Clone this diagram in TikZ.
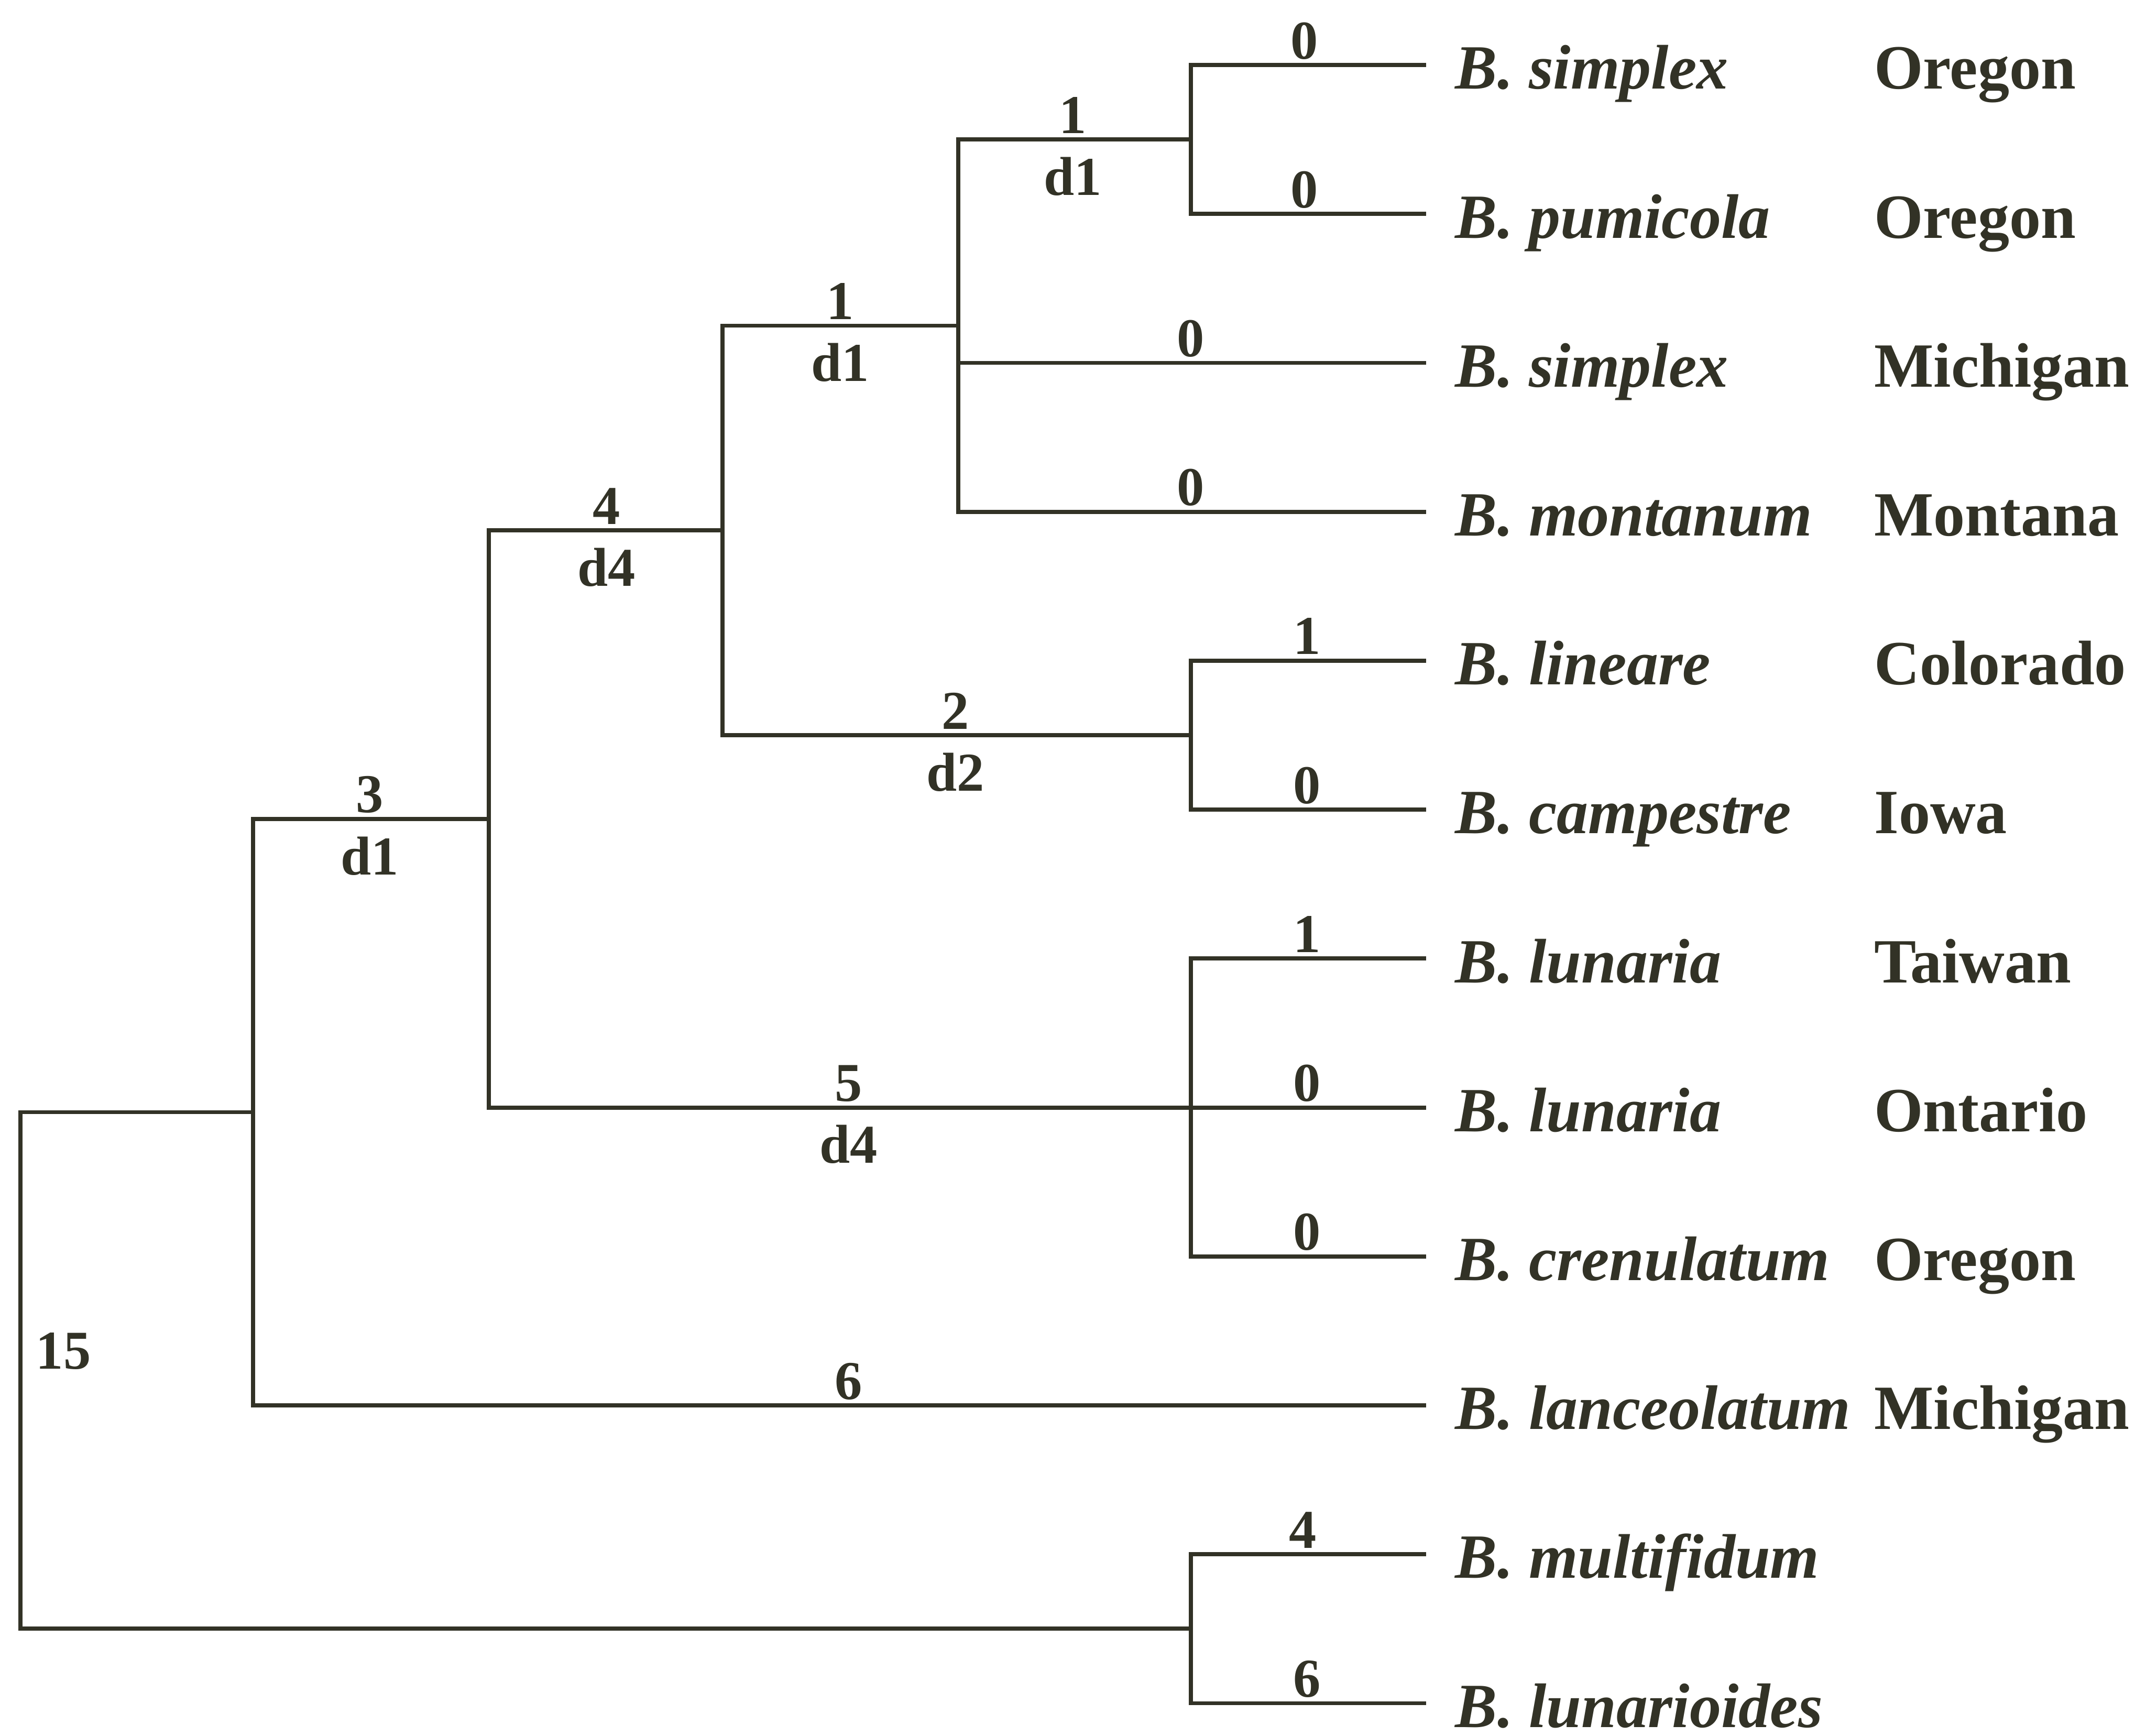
\documentclass[tikz,border=0pt]{standalone}
\usepackage{fontspec}
\setmainfont{Liberation Serif}
\definecolor{ink}{RGB}{50,50,38}
\begin{document}
\begin{tikzpicture}[x=0.5pt,y=-0.5pt,
  branch/.style={line width=1.5pt, draw=ink, line join=miter},
  taxon/.style={anchor=base west, inner sep=0pt, text=ink,
    font=\fontsize{23}{27}\selectfont\bfseries\itshape},
  place/.style={anchor=base west, inner sep=0pt, text=ink,
    font=\fontsize{23}{27}\selectfont\bfseries},
  num/.style={anchor=base, inner sep=0pt, text=ink,
    font=\fontsize{20}{24}\selectfont\bfseries}]
\useasboundingbox (0,0) rectangle (1568,1268);
\fill[white] (0,0) rectangle (1568,1268);

% branch tips
\coordinate (t1)  at (1042,47.5);
\coordinate (t2)  at (1042,156.3);
\coordinate (t3)  at (1042,265.1);
\coordinate (t4)  at (1042,373.9);
\coordinate (t5)  at (1042,482.7);
\coordinate (t6)  at (1042,591.5);
\coordinate (t7)  at (1042,700.3);
\coordinate (t8)  at (1042,809.1);
\coordinate (t9)  at (1042,917.9);
\coordinate (t10) at (1042,1026.7);
\coordinate (t11) at (1042,1135.5);
\coordinate (t12) at (1042,1244.3);

% internal nodes (on their vertical bars)
\coordinate (A) at (870,101.9);
\coordinate (B) at (700,237.9);
\coordinate (C) at (870,537.1);
\coordinate (D) at (528,387.5);
\coordinate (E) at (870,809.1);
\coordinate (F) at (357,598.3);
\coordinate (G) at (185,812.5);
\coordinate (H) at (870,1189.9);
\coordinate (R) at (15,1001.2);

% tree
\draw[branch] (A) |- (t1);  \draw[branch] (A) |- (t2);
\draw[branch] (B) |- (A);   \draw[branch] (B) |- (t3);  \draw[branch] (B) |- (t4);
\draw[branch] (C) |- (t5);  \draw[branch] (C) |- (t6);
\draw[branch] (D) |- (B);   \draw[branch] (D) |- (C);
\draw[branch] (E) |- (t7);  \draw[branch] (E) -- (t8);  \draw[branch] (E) |- (t9);
\draw[branch] (F) |- (D);   \draw[branch] (F) |- (E);
\draw[branch] (G) |- (F);   \draw[branch] (G) |- (t10);
\draw[branch] (H) |- (t11); \draw[branch] (H) |- (t12);
\draw[branch] (R) |- (G);   \draw[branch] (R) |- (H);

% taxa
\node[taxon] (s1)  at (1063,65.0)   {B. simplex};
\node[taxon] (s2)  at (1063,173.8)  {B. pumicola};
\node[taxon] (s3)  at (1063,282.6)  {B. simplex};
\node[taxon] (s4)  at (1063,391.4)  {B. montanum};
\node[taxon] (s5)  at (1063,500.2)  {B. lineare};
\node[taxon] (s6)  at (1063,609.0)  {B. campestre};
\node[taxon] (s7)  at (1063,717.8)  {B. lunaria};
\node[taxon] (s8)  at (1063,826.6)  {B. lunaria};
\node[taxon] (s9)  at (1063,935.4)  {B. crenulatum};
\node[taxon] (s10) at (1063,1044.2) {B. lanceolatum};
\node[taxon] (s11) at (1063,1153.0) {B. multifidum};
\node[taxon] (s12) at (1063,1261.8) {B. lunarioides};

% localities
\node[place] (p1)  at (1369,65.0)   {Oregon};
\node[place] (p2)  at (1369,173.8)  {Oregon};
\node[place] (p3)  at (1369,282.6)  {Michigan};
\node[place] (p4)  at (1369,391.4)  {Montana};
\node[place] (p5)  at (1369,500.2)  {Colorado};
\node[place] (p6)  at (1369,609.0)  {Iowa};
\node[place] (p7)  at (1369,717.8)  {Taiwan};
\node[place] (p8)  at (1369,826.6)  {Ontario};
\node[place] (p9)  at (1369,935.4)  {Oregon};
\node[place] (p10) at (1369,1044.2) {Michigan};

% terminal branch values
\node[num] (b1)  at (953,42.9)   {0};
\node[num] (b2)  at (953,151.7)  {0};
\node[num] (b3)  at (870,260.5)  {0};
\node[num] (b4)  at (870,369.3)  {0};
\node[num] (b5)  at (955,478.1)  {1};
\node[num] (b6)  at (955,586.9)  {0};
\node[num] (b7)  at (955,695.7)  {1};
\node[num] (b8)  at (955,804.5)  {0};
\node[num] (b9)  at (955,913.3)  {0};
\node[num] (b10) at (620,1022.1) {6};
\node[num] (b11) at (952,1130.9) {4};
\node[num] (b12) at (955,1239.7) {6};

% internal branch values and decay indices
\node[num] (vA) at (784,97.3)  {1};  \node[num] (dA) at (784,142.6) {d1};
\node[num] (vB) at (614,233.3) {1};  \node[num] (dB) at (614,278.6) {d1};
\node[num] (vC) at (698,532.5) {2};  \node[num] (dC) at (698,577.8) {d2};
\node[num] (vD) at (443,382.9) {4};  \node[num] (dD) at (443,428.2) {d4};
\node[num] (vE) at (620,804.5) {5};  \node[num] (dE) at (620,849.8) {d4};
\node[num] (vF) at (270,593.7) {3};  \node[num] (dF) at (270,639.0) {d1};
\node[num, anchor=base west] (vR) at (26,1000) {15};
\end{tikzpicture}
\end{document}
